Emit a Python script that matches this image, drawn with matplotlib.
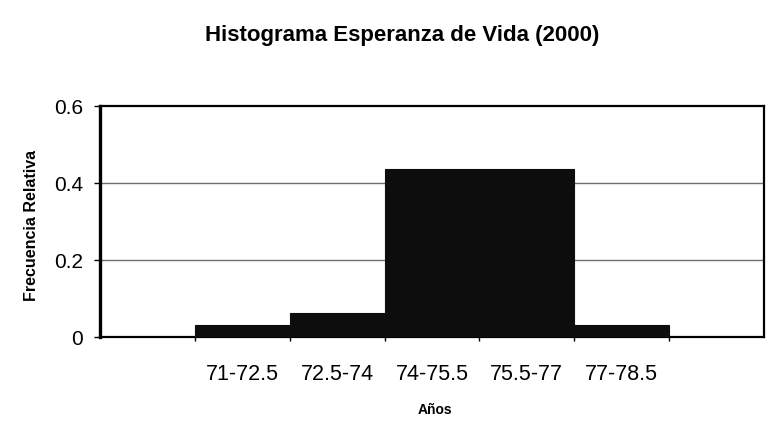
import matplotlib

matplotlib.use("Agg")
import matplotlib.pyplot as plt
from matplotlib.ticker import FixedLocator, NullFormatter, FixedFormatter

# categories (first and last are empty bins shown by Excel)
CATEGORIES = ["", "71-72.5", "72.5-74", "74-75.5", "75.5-77", "77-78.5", ""]
FREQ = [0.0, 0.03125, 0.0625, 0.4375, 0.4375, 0.03125, 0.0]
Y_TICKS = [0, 0.2, 0.4, 0.6]
Y_LABELS = ["0", "0.2", "0.4", "0.6"]

TITLE = "Histograma Esperanza de Vida (2000)"
XLABEL = "Años"
YLABEL = "Frecuencia Relativa"

plt.rcParams["font.family"] = ["Liberation Sans", "DejaVu Sans"]

fig = plt.figure(figsize=(7.71, 4.31), dpi=100)
ax = fig.add_axes([100 / 771, 1 - 338 / 431, 664 / 771, 231 / 431])

xs = list(range(len(CATEGORIES)))
ax.bar(xs, FREQ, width=1.0, color="#0d0d0d", edgecolor="#0d0d0d", linewidth=0.8, zorder=3)

ax.set_xlim(-0.5, len(CATEGORIES) - 0.5)
ax.set_ylim(0, 0.6)

# gridlines at the y ticks
for y in Y_TICKS[1:-1]:
    ax.axhline(y, color="#6e6e6e", linewidth=1.0, zorder=1)

ax.set_yticks(Y_TICKS)
ax.set_yticklabels(Y_LABELS)
ax.tick_params(axis="y", length=4, width=1, pad=8, labelsize=15, direction="out")

# ticks at category boundaries, labels at centers
ax.xaxis.set_major_locator(FixedLocator([i + 0.5 for i in range(len(CATEGORIES) - 1)]))
ax.xaxis.set_major_formatter(NullFormatter())
ax.xaxis.set_minor_locator(FixedLocator(xs))
ax.xaxis.set_minor_formatter(FixedFormatter(CATEGORIES))
ax.tick_params(axis="x", which="major", length=3, width=1, direction="out")
ax.tick_params(axis="x", which="minor", length=0, pad=19, labelsize=15.5)

for side in ("top", "right", "bottom"):
    ax.spines[side].set_linewidth(1.6)
ax.spines["left"].set_linewidth(2.4)

fig.text(402 / 771, 1 - 36 / 431, TITLE, ha="center", va="center",
         fontsize=16, fontweight="bold")
fig.text(435 / 771, 1 - 410 / 431, XLABEL, ha="center", va="center",
         fontsize=10, fontweight="bold")
fig.text(32 / 771, 1 - 225 / 431, YLABEL, ha="center", va="center",
         fontsize=11.5, fontweight="bold", rotation=90)

fig.savefig("out.png", dpi=100)
